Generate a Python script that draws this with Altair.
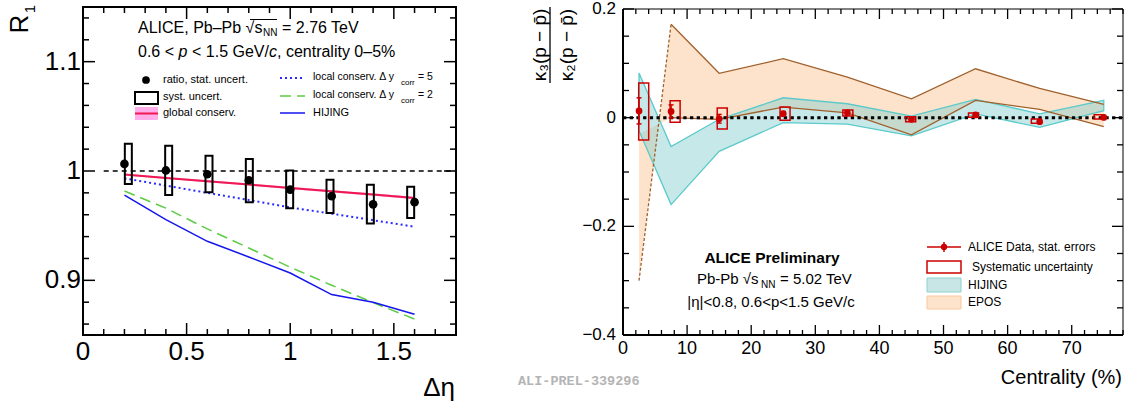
import altair as alt
import pandas as pd

FONT = "Liberation Sans"

# ---------------- left panel: R1 vs delta-eta ----------------
deta = [0.2, 0.4, 0.6, 0.8, 1.0, 1.2, 1.4, 1.6]
r1 = [1.0065, 1.0005, 0.997, 0.9915, 0.983, 0.977, 0.9695, 0.9715]
r1_stat = [0.003, 0.003, 0.003, 0.003, 0.003, 0.003, 0.003, 0.003]
r1_sys_lo = [0.988, 0.978, 0.9805, 0.9715, 0.966, 0.9615, 0.952, 0.957]
r1_sys_hi = [1.025, 1.023, 1.014, 1.011, 1.0005, 0.992, 0.9875, 0.9857]
global_cons = [0.9967, 0.9937, 0.9906, 0.9876, 0.9845, 0.9814, 0.9784, 0.9753]
global_cons_err = [0.0008, 0.0008, 0.0009, 0.0009, 0.001, 0.001, 0.0011, 0.0012]
local_cons_5 = [0.9933, 0.9867, 0.980, 0.9735, 0.9667, 0.961, 0.955, 0.949]
local_cons_2 = [0.9817, 0.966, 0.947, 0.9296, 0.912, 0.8955, 0.8796, 0.8646]
hijing_r1 = [0.978, 0.9555, 0.9357, 0.9214, 0.9067, 0.887, 0.880, 0.869]
unity_x = [0.1, 1.8]
unity_y = [1.0, 1.0]

L_XDOM = [0, 1.8]
L_YDOM = [0.85, 1.15]
left_x_major = [0, 0.5, 1.0, 1.5]
left_x_labels = ["0", "0.5", "1", "1.5"]
left_x_minor = [0.1, 0.2, 0.3, 0.4, 0.6, 0.7, 0.8, 0.9, 1.1, 1.2, 1.3, 1.4, 1.6, 1.7]
left_y_major = [0.9, 1.0, 1.1]
left_y_labels = ["0.9", "1", "1.1"]
left_y_minor = [0.86, 0.88, 0.92, 0.94, 0.96, 0.98, 1.02, 1.04, 1.06, 1.08, 1.12, 1.14]

# ---------------- right panel: kappa3/kappa2 vs centrality ----------------
cent = [2.5, 7.5, 15, 25, 35, 45, 55, 65, 75]
k_ratio = [0.0125, 0.0115, -0.002, 0.0073, 0.009, -0.003, 0.005, -0.0075, 0.0005]
k_stat = [0.024, 0.012, 0.008, 0.004, 0.004, 0.003, 0.003, 0.003, 0.002]
k_sys_lo = [-0.041, -0.0086, -0.0207, -0.0049, 0.003, -0.0073, 0.0006, -0.0104, -0.0024]
k_sys_hi = [0.0637, 0.031, 0.0178, 0.0195, 0.014, 0.0018, 0.0086, -0.0024, 0.0055]
hij_lo = [-0.024, -0.16, -0.062, -0.009, -0.012, -0.0336, 0.007, -0.0178, 0.0128]
hij_hi = [0.082, -0.053, -0.003, 0.0366, 0.0256, 0.003, 0.0336, 0.007, 0.032]
# the two EPOS band edges (they cross between the first two centrality bins)
epos_edge_a = [-0.03, 0.0, -0.003, 0.0195, 0.009, -0.0317, 0.0317, 0.0152, -0.0165]
epos_edge_b = [-0.30, 0.172, 0.0817, 0.1085, 0.0744, 0.0348, 0.090, 0.0537, 0.0244]
zero_x = [0, 78]
zero_y = [0.0, 0.0]

R_XDOM = [0, 78]
R_YDOM = [-0.4, 0.2]
right_x_major = [0, 10, 20, 30, 40, 50, 60, 70]
right_x_labels = ["0", "10", "20", "30", "40", "50", "60", "70"]
right_x_minor = [v for v in range(2, 79, 2) if v % 10 != 0]
right_y_major = [-0.4, -0.2, 0.0, 0.2]
right_y_labels = ["\u22120.4", "\u22120.2", "0", "0.2"]
right_y_minor = [-0.35, -0.3, -0.25, -0.15, -0.1, -0.05, 0.05, 0.1, 0.15]

# ---------------- pixel frame of each panel ----------------
L_PX = [83, 456]
L_PY = [335, 7]
R_PX = [623, 1123]
R_PY = [335, 9]

LX = alt.Scale(domain=L_XDOM, range=L_PX, nice=False, zero=False)
LY = alt.Scale(domain=L_YDOM, range=L_PY, nice=False, zero=False)
RX = alt.Scale(domain=R_XDOM, range=R_PX, nice=False, zero=False)
RY = alt.Scale(domain=R_YDOM, range=R_PY, nice=False, zero=False)

ONE = pd.DataFrame({"a": [0]})


def qx(f, s):
    return alt.X(f + ":Q", scale=s, axis=None)


def qy(f, s):
    return alt.Y(f + ":Q", scale=s, axis=None)


def xticks(vals, xs, ypix, length, w=1.5):
    df = pd.DataFrame({"v": vals})
    return alt.Chart(df).mark_rule(color="black", strokeWidth=w).encode(
        x=qx("v", xs), y=alt.value(ypix), y2=alt.value(ypix + length))


def yticks(vals, ys, xpix, length, w=1.5):
    df = pd.DataFrame({"v": vals})
    return alt.Chart(df).mark_rule(color="black", strokeWidth=w).encode(
        y=qy("v", ys), x=alt.value(xpix), x2=alt.value(xpix + length))


def xlabels(vals, labs, xs, ypix, size):
    df = pd.DataFrame({"v": vals, "t": labs})
    return alt.Chart(df).mark_text(font=FONT, fontSize=size, align="center", baseline="middle", color="black").encode(
        x=qx("v", xs), y=alt.value(ypix), text="t:N")


def ylabels(vals, labs, ys, xpix, size):
    df = pd.DataFrame({"v": vals, "t": labs})
    return alt.Chart(df).mark_text(font=FONT, fontSize=size, align="right", baseline="middle", color="black").encode(
        y=qy("v", ys), x=alt.value(xpix), text="t:N")


def txt(s, x, y, size, align="left", font=FONT, **kw):
    return alt.Chart(ONE).mark_text(text=s, font=font, fontSize=size, align=align, baseline="middle",
                                    color=kw.pop("color", "black"), **kw).encode(
        x=alt.value(x), y=alt.value(y))


def frame(xs, ys, xd, yd, w):
    df = pd.DataFrame({"x0": [xd[0]], "x1": [xd[1]], "y0": [yd[0]], "y1": [yd[1]]})
    return alt.Chart(df).mark_rect(fillOpacity=0, stroke="black", strokeWidth=w).encode(
        x=qx("x0", xs), x2="x1:Q", y=qy("y0", ys), y2="y1:Q")


layers = []

# ======================= LEFT PANEL =======================
ldf = pd.DataFrame({
    "x": deta, "y": r1,
    "slo": [a - b for a, b in zip(r1, r1_stat)], "shi": [a + b for a, b in zip(r1, r1_stat)],
    "ylo": r1_sys_lo, "yhi": r1_sys_hi,
    "g": global_cons,
    "glo": [a - b for a, b in zip(global_cons, global_cons_err)],
    "ghi": [a + b for a, b in zip(global_cons, global_cons_err)],
    "l5": local_cons_5, "l2": local_cons_2, "hj": hijing_r1,
})
udf = pd.DataFrame({"x": unity_x, "y": unity_y})

layers.append(alt.Chart(udf).mark_line(color="black", strokeWidth=1.5, strokeDash=[5, 4]).encode(
    x=qx("x", LX), y=qy("y", LY)))
layers.append(alt.Chart(ldf).mark_area(color="#ff77dd", opacity=0.7).encode(
    x=qx("x", LX), y=qy("glo", LY), y2="ghi:Q"))
layers.append(alt.Chart(ldf).mark_line(color="#f01850", strokeWidth=2).encode(x=qx("x", LX), y=qy("g", LY)))
layers.append(alt.Chart(ldf).mark_line(color="#2a2aff", strokeWidth=2, strokeDash=[2, 3]).encode(
    x=qx("x", LX), y=qy("l5", LY)))
layers.append(alt.Chart(ldf).mark_line(color="#5ccc44", strokeWidth=1.5, strokeDash=[11, 6]).encode(
    x=qx("x", LX), y=qy("l2", LY)))
layers.append(alt.Chart(ldf).mark_line(color="#1515ee", strokeWidth=1.5).encode(x=qx("x", LX), y=qy("hj", LY)))
layers.append(alt.Chart(ldf).mark_bar(width=7, fillOpacity=0, stroke="black", strokeWidth=2).encode(
    x=qx("x", LX), y=qy("ylo", LY), y2="yhi:Q"))
layers.append(alt.Chart(ldf).mark_rule(color="black", strokeWidth=1.5).encode(
    x=qx("x", LX), y=qy("slo", LY), y2="shi:Q"))
layers.append(alt.Chart(ldf).mark_point(filled=True, shape="circle", size=75, color="black", opacity=1).encode(
    x=qx("x", LX), y=qy("y", LY)))

# frame, ticks, labels
layers.append(frame(LX, LY, L_XDOM, L_YDOM, 2))
layers.append(xticks(left_x_major, LX, L_PY[0], -12))
layers.append(xticks(left_x_minor, LX, L_PY[0], -6))
layers.append(xticks(left_x_major, LX, L_PY[1], 12))
layers.append(xticks(left_x_minor, LX, L_PY[1], 6))
layers.append(yticks(left_y_major, LY, L_PX[0], 12))
layers.append(yticks(left_y_minor, LY, L_PX[0], 6))
layers.append(yticks(left_y_major, LY, L_PX[1], -12))
layers.append(yticks(left_y_minor, LY, L_PX[1], -6))
layers.append(xlabels(left_x_major, left_x_labels, LX, 352, 26))
layers.append(ylabels(left_y_major, left_y_labels, LY, 81, 26))
layers.append(txt("\u0394\u03b7", 455, 388, 26, align="right"))
layers.append(txt("R", 20, 24, 26, align="center", angle=270))
layers.append(txt("1", 30, 9, 15, align="center", angle=270))

# header text
layers.append(txt("ALICE, Pb\u2013Pb \u221as", 138, 28, 16))
layers.append(alt.Chart(ONE).mark_rule(color="black", strokeWidth=1).encode(
    x=alt.value(250), x2=alt.value(277), y=alt.value(19.5)))
layers.append(txt("NN", 263, 33, 10))
layers.append(txt("= 2.76 TeV", 282, 28, 16))
layers.append(txt("0.6 <", 138, 52, 16))
layers.append(txt("p", 178.5, 52, 16, fontStyle="italic"))
layers.append(txt("< 1.5 GeV/", 192, 52, 16))
layers.append(txt("c", 269, 52, 16, fontStyle="italic"))
layers.append(txt(", centrality 0\u20135%", 277, 52, 16))

# legend (left)
layers.append(alt.Chart(ONE).mark_point(filled=True, shape="circle", size=60, color="black", opacity=1).encode(
    x=alt.value(146), y=alt.value(80)))
layers.append(txt("ratio, stat. uncert.", 163, 80, 11))
layers.append(alt.Chart(ONE).mark_rect(fillOpacity=0, stroke="black", strokeWidth=2).encode(
    x=alt.value(135), x2=alt.value(158), y=alt.value(92), y2=alt.value(104)))
layers.append(txt("syst. uncert.", 163, 97, 11))
layers.append(alt.Chart(ONE).mark_rect(color="#ff77dd", opacity=0.6).encode(
    x=alt.value(135), x2=alt.value(158), y=alt.value(107), y2=alt.value(120)))
layers.append(alt.Chart(ONE).mark_rule(color="#f01850", strokeWidth=2).encode(
    x=alt.value(135), x2=alt.value(158), y=alt.value(113.5)))
layers.append(txt("global conserv.", 163, 113, 11))
layers.append(alt.Chart(ONE).mark_rule(color="#2a2aff", strokeWidth=2, strokeDash=[2, 3]).encode(
    x=alt.value(280), x2=alt.value(305), y=alt.value(78)))
layers.append(txt("local conserv. \u0394 y", 313, 77, 10.5))
layers.append(txt("corr", 401, 83, 8))
layers.append(txt("= 5", 418, 77, 10.5))
layers.append(alt.Chart(ONE).mark_rule(color="#5ccc44", strokeWidth=1.5, strokeDash=[11, 6]).encode(
    x=alt.value(280), x2=alt.value(305), y=alt.value(96)))
layers.append(txt("local conserv. \u0394 y", 313, 95, 10.5))
layers.append(txt("corr", 401, 101, 8))
layers.append(txt("= 2", 418, 95, 10.5))
layers.append(alt.Chart(ONE).mark_rule(color="#1515ee", strokeWidth=1.5).encode(
    x=alt.value(280), x2=alt.value(305), y=alt.value(113)))
layers.append(txt("HIJING", 313, 113, 11))

# ======================= RIGHT PANEL =======================
rdf = pd.DataFrame({
    "x": cent, "y": k_ratio,
    "slo": [a - b for a, b in zip(k_ratio, k_stat)], "shi": [a + b for a, b in zip(k_ratio, k_stat)],
    "ylo": k_sys_lo, "yhi": k_sys_hi,
    "hlo": hij_lo, "hhi": hij_hi, "ea": epos_edge_a, "eb": epos_edge_b,
})
zdf = pd.DataFrame({"x": zero_x, "y": zero_y})
rdf_tail = rdf.iloc[1:]
rdf_head = rdf.iloc[:2]

TEAL_EDGE = "#5ccaca"
BROWN = "#a0602c"
RED = "#cc0000"

layers.append(alt.Chart(rdf).mark_area(color="#fee3cc", opacity=1).encode(
    x=qx("x", RX), y=qy("ea", RY), y2="eb:Q"))
layers.append(alt.Chart(rdf).mark_area(color="#80cccc", fillOpacity=0.45, stroke=TEAL_EDGE, strokeWidth=1.3).encode(
    x=qx("x", RX), y=qy("hlo", RY), y2="hhi:Q"))
layers.append(alt.Chart(rdf_tail).mark_line(color=BROWN, strokeWidth=1.3).encode(x=qx("x", RX), y=qy("eb", RY)))
layers.append(alt.Chart(rdf_tail).mark_line(color=BROWN, strokeWidth=1.3).encode(x=qx("x", RX), y=qy("ea", RY)))
layers.append(alt.Chart(rdf_head).mark_line(color=BROWN, strokeWidth=1.3, strokeDash=[3, 2]).encode(
    x=qx("x", RX), y=qy("eb", RY)))
layers.append(alt.Chart(zdf).mark_line(color="black", strokeWidth=3, strokeDash=[3.3, 3.4]).encode(
    x=qx("x", RX), y=qy("y", RY)))
layers.append(alt.Chart(rdf).mark_bar(width=10, fillOpacity=0, stroke=RED, strokeWidth=1.5).encode(
    x=qx("x", RX), y=qy("ylo", RY), y2="yhi:Q"))
layers.append(alt.Chart(rdf).mark_rule(color=RED, strokeWidth=1.5).encode(
    x=qx("x", RX), y=qy("slo", RY), y2="shi:Q"))
layers.append(alt.Chart(rdf).mark_tick(orient="horizontal", size=5, thickness=1.5, color=RED, opacity=1).encode(
    x=qx("x", RX), y=qy("slo", RY)))
layers.append(alt.Chart(rdf).mark_tick(orient="horizontal", size=5, thickness=1.5, color=RED, opacity=1).encode(
    x=qx("x", RX), y=qy("shi", RY)))
layers.append(alt.Chart(rdf).mark_point(filled=True, shape="circle", size=45, color=RED, opacity=1).encode(
    x=qx("x", RX), y=qy("y", RY)))

# frame, ticks, labels
layers.append(frame(RX, RY, R_XDOM, R_YDOM, 1))
fdf = pd.DataFrame({"x0": [R_XDOM[0]], "x1": [R_XDOM[1]], "y0": [R_YDOM[0]], "y1": [R_YDOM[1]]})
layers.append(alt.Chart(fdf).mark_rule(color="black", strokeWidth=2).encode(
    x=qx("x0", RX), y=qy("y0", RY), y2="y1:Q"))
layers.append(alt.Chart(fdf).mark_rule(color="black", strokeWidth=2).encode(
    x=qx("x0", RX), x2="x1:Q", y=qy("y0", RY)))
layers.append(xticks(right_x_major, RX, R_PY[0], -10, 1.3))
layers.append(xticks(right_x_minor, RX, R_PY[0], -5, 1.3))
layers.append(xticks(right_x_major, RX, R_PY[1], 10, 1.3))
layers.append(xticks(right_x_minor, RX, R_PY[1], 5, 1.3))
layers.append(yticks(right_y_major, RY, R_PX[0], 11, 1.3))
layers.append(yticks(right_y_minor, RY, R_PX[0], 6, 1.3))
layers.append(yticks(right_y_major, RY, R_PX[1], -11, 1.3))
layers.append(yticks(right_y_minor, RY, R_PX[1], -6, 1.3))
layers.append(xlabels(right_x_major, right_x_labels, RX, 349, 18))
layers.append(ylabels(right_y_major, right_y_labels, RY, 616, 17))
layers.append(txt("Centrality (%)", 1122, 378, 20, align="right"))

# y title (fraction)
layers.append(txt("\u03ba\u2083(p \u2212 p\u0304)", 540, 45, 19, align="center", angle=270))
layers.append(alt.Chart(ONE).mark_rule(color="black", strokeWidth=1.3).encode(
    x=alt.value(550), y=alt.value(7), y2=alt.value(83)))
layers.append(txt("\u03ba\u2082(p \u2212 p\u0304)", 567, 45, 19, align="center", angle=270))

# text block
layers.append(txt("ALICE Preliminary", 772, 258, 15.5, align="center", fontWeight="bold"))
layers.append(txt("Pb-Pb \u221as", 697, 279, 15))
layers.append(txt("NN", 761, 285, 10))
layers.append(txt("= 5.02 TeV", 780, 279, 15))
layers.append(txt("|\u03b7|<0.8, 0.6<p<1.5 GeV/c", 771, 302, 15, align="center"))

# legend (right)
layers.append(alt.Chart(ONE).mark_rule(color=RED, strokeWidth=1.5).encode(
    x=alt.value(927), x2=alt.value(961), y=alt.value(247)))
layers.append(alt.Chart(ONE).mark_rule(color=RED, strokeWidth=1.5).encode(
    x=alt.value(944), y=alt.value(242), y2=alt.value(252)))
layers.append(alt.Chart(ONE).mark_point(filled=True, shape="circle", size=40, color=RED, opacity=1).encode(
    x=alt.value(944), y=alt.value(247)))
layers.append(txt("ALICE Data, stat. errors", 968, 247, 12))
layers.append(alt.Chart(ONE).mark_rect(fillOpacity=0, stroke=RED, strokeWidth=1.5).encode(
    x=alt.value(927), x2=alt.value(961), y=alt.value(261), y2=alt.value(273)))
layers.append(txt("Systematic uncertainty", 972, 267, 12))
layers.append(alt.Chart(ONE).mark_rect(color="#c8e6e6", stroke="#8fd0d0", strokeWidth=1).encode(
    x=alt.value(927), x2=alt.value(961), y=alt.value(278), y2=alt.value(292)))
layers.append(txt("HIJING", 968, 285, 12))
layers.append(alt.Chart(ONE).mark_rect(color="#fee3cc", stroke="#f8c89c", strokeWidth=1).encode(
    x=alt.value(927), x2=alt.value(961), y=alt.value(296), y2=alt.value(309)))
layers.append(txt("EPOS", 968, 302, 12))

layers.append(txt("ALI-PREL-339296", 518, 381, 13.5, font="Liberation Mono", fontWeight="bold", color="#b4b4b4"))

chart = alt.layer(*layers).resolve_scale(x="independent", y="independent").properties(
    width=1134, height=401, padding=0, autosize=alt.AutoSizeParams(type="none"),
    background="white",
).configure_view(stroke=None)

chart.save("out.html", embed_options={"renderer": "svg", "actions": False})
